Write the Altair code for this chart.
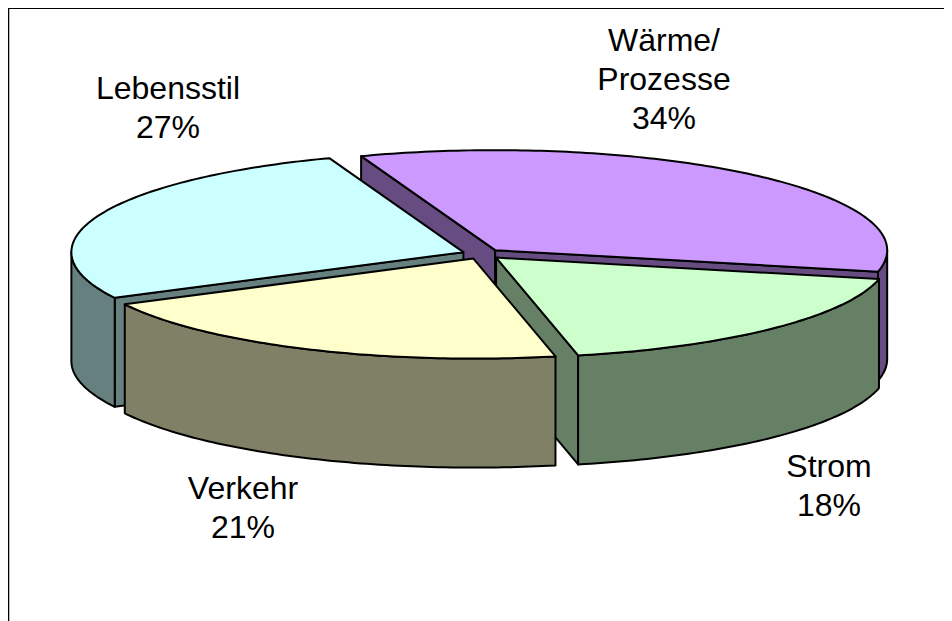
import math
import altair as alt

labels = ["Wärme/\nProzesse", "Strom", "Verkehr", "Lebensstil"]
shown_shares = [34, 18, 21, 27]
shares = [34.0, 18.2, 20.8, 27.0]
tops = ["#CC99FF", "#CCFFCC", "#FFFFCC", "#CCFFFF"]
walls = ["#664C80", "#668066", "#808066", "#668080"]

CX, CY, RX, RY, DEPTH, EXPLODE, START = 474, 246, 392, 100, 109, 20, -110
W, H = 936, 640
DRAW_ORDER = [0, 3, 1, 2]
# label anchor: first-line centre
LABEL_POS = {0: (656, 33), 1: (821, 459), 2: (235, 481), 3: (160, 81)}
LINE = 39


def pt(c, t):
    return [c[0] + RX * math.cos(t), c[1] + RY * math.sin(t)]


def feature(coords, fill, order):
    ring = [list(p) for p in coords]
    ring.append(ring[0])
    return {
        "type": "Feature",
        "properties": {"fill": fill, "order": order},
        "geometry": {"type": "Polygon", "coordinates": [ring]},
    }


def arc(c, a, b):
    n = max(2, int(abs(b - a) * 60))
    return [pt(c, a + (b - a) * i / n) for i in range(n + 1)]


slices = []
angle = math.radians(START)
for s in shares:
    sweep = math.radians(s * 3.6)
    slices.append((angle, angle + sweep))
    angle += sweep

features = []
for rank, i in enumerate(DRAW_ORDER):
    a, b = slices[i]
    mid = (a + b) / 2
    c = (CX + EXPLODE * math.cos(mid), CY + EXPLODE * RY / RX * math.sin(mid))
    down = lambda p: [p[0], p[1] + DEPTH]
    base = rank * 10
    # radial faces: only those turned towards the viewer
    if math.cos(a) < 0:
        e = pt(c, a)
        features.append(feature([c, e, down(e), down(c)], walls[i], base))
    if math.cos(b) > 0:
        e = pt(c, b)
        features.append(feature([c, e, down(e), down(c)], walls[i], base + 1))
    # outer wall: the part of the rim that faces the viewer
    for off in (0, 2 * math.pi, -2 * math.pi):
        l, h = max(a + off, 0), min(b + off, math.pi)
        if h > l:
            rim = arc(c, l, h)
            features.append(feature(rim + [down(p) for p in reversed(rim)], walls[i], base + 2))
    features.append(feature([c] + arc(c, a, b), tops[i], base + 3))

pie = (
    alt.Chart(alt.Data(values=features))
    .mark_geoshape(stroke="black", strokeWidth=2, strokeJoin="round")
    .encode(
        fill=alt.Fill("properties.fill:N", scale=None),
        order=alt.Order("properties.order:Q"),
    )
    .project(type="identity", scale=1, translate=[0, 0])
)

rows = []
for i, name in enumerate(labels):
    x, y = LABEL_POS[i]
    rows.append({"text": f"{name}\n{shown_shares[i]}%".split("\n"), "x": x, "y": y})

text = (
    alt.Chart(alt.Data(values=rows))
    .mark_text(font="Liberation Sans", fontSize=32, color="black", lineHeight=LINE, baseline="middle")
    .encode(
        x=alt.X("x:Q", scale=None),
        y=alt.Y("y:Q", scale=None),
        text="text:N",
    )
)

top_edge = alt.Chart(alt.Data(values=[{}])).mark_rule(color="black", strokeWidth=2).encode(
    x=alt.value(0), x2=alt.value(W), y=alt.value(0)
)
left_edge = alt.Chart(alt.Data(values=[{}])).mark_rule(color="black", strokeWidth=1.5).encode(
    y=alt.value(0), y2=alt.value(H), x=alt.value(0.5)
)

chart = (
    alt.layer(pie, text, top_edge, left_edge)
    .properties(width=W, height=H, padding=0, autosize=alt.AutoSizeParams(type="none"))
    .configure_view(stroke=None)
)

chart.save("out.html", embed_options={"renderer": "svg", "actions": False})
